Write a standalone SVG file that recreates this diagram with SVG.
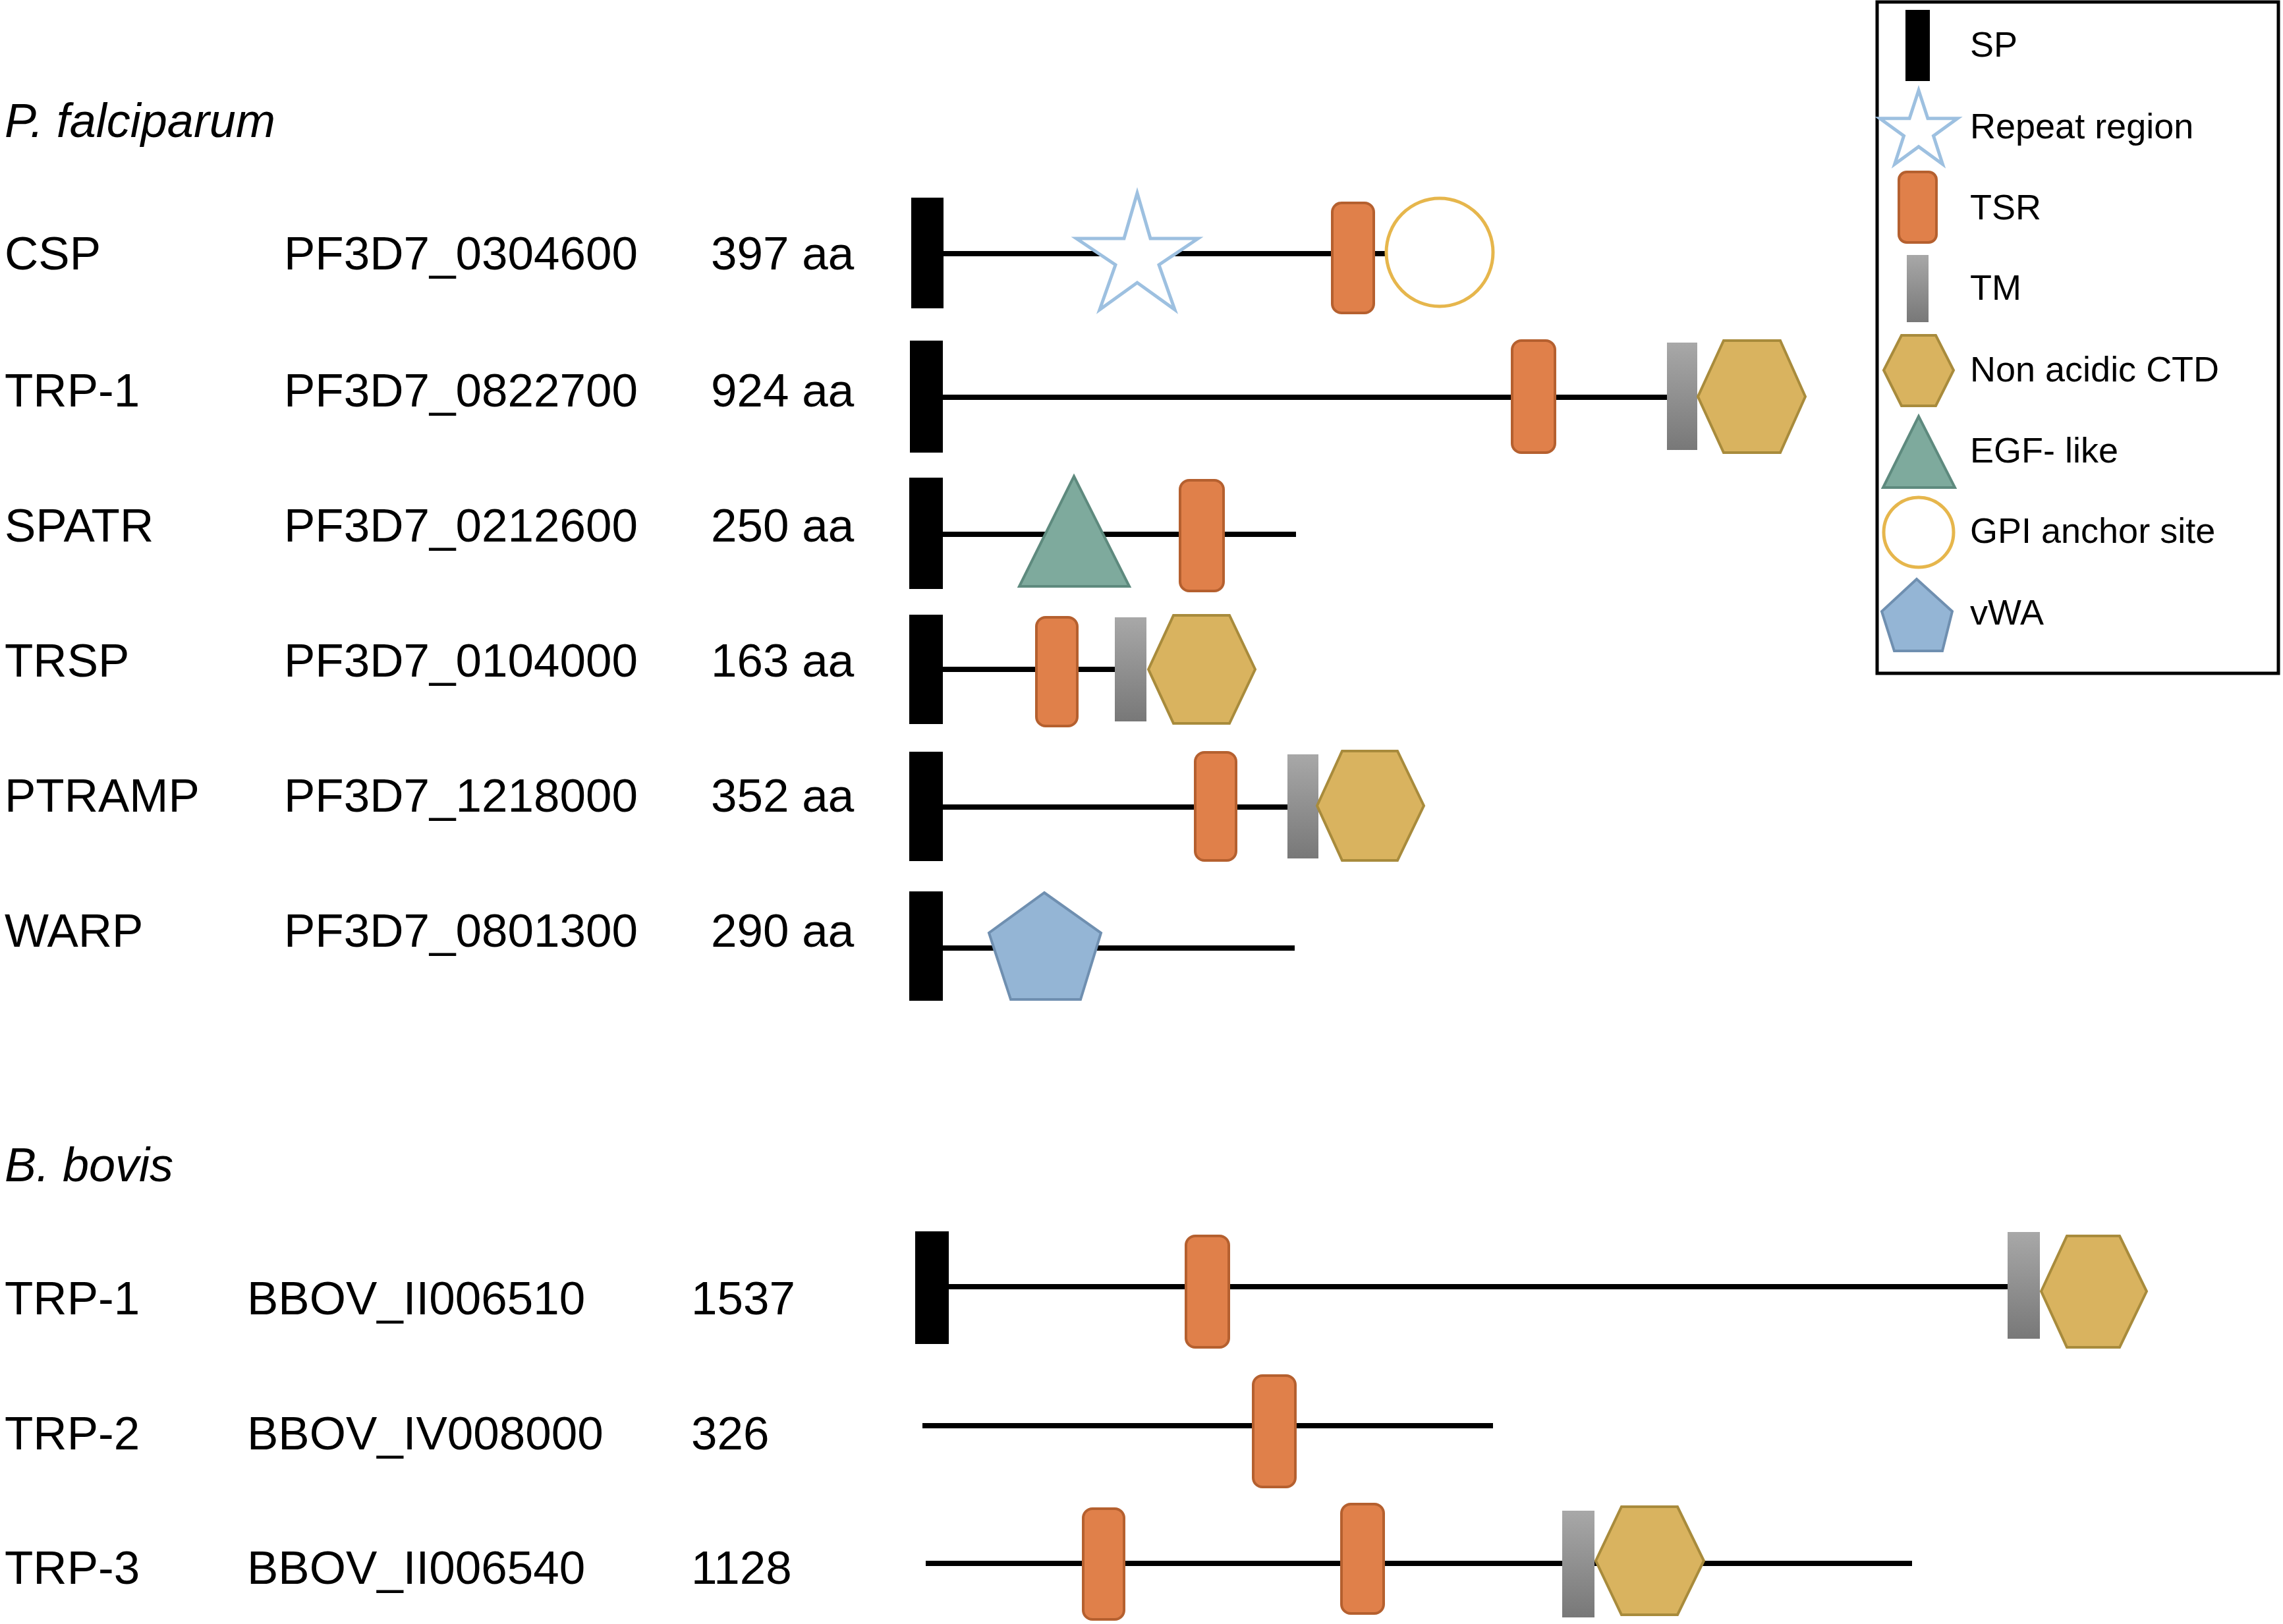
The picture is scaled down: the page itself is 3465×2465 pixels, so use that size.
<svg xmlns="http://www.w3.org/2000/svg" width="3465" height="2465" viewBox="0 0 3465 2465">
<defs>
<linearGradient id="tmGrad" x1="0" y1="0" x2="0" y2="1">
<stop offset="0" stop-color="#A8A8A8"/>
<stop offset="1" stop-color="#787878"/>
</linearGradient>
<style>
.t{font-family:"Liberation Sans",Arial,sans-serif;font-size:71px;fill:#000}
.ti{font-family:"Liberation Sans",Arial,sans-serif;font-size:72px;font-style:italic;fill:#000}
.lg{font-family:"Liberation Sans",Arial,sans-serif;font-size:54px;fill:#000}
.sp{fill:#000}
.tsr{fill:#E0804A;stroke:#B5602F;stroke-width:4}
.tm{fill:url(#tmGrad)}
.hex{fill:#D9B35F;stroke:#A88B3C;stroke-width:4}
.tri{fill:#7EAA9D;stroke:#5E8A7E;stroke-width:4}
.pent{fill:#94B5D5;stroke:#6F8FB0;stroke-width:4}
.gpi{fill:none;stroke:#E6B64C;stroke-width:5}
.star{fill:#fff;stroke:#9DC0E0;stroke-width:5}
.bb{stroke:#000;stroke-width:8;fill:none}
</style>
</defs>
<rect width="3465" height="2465" fill="#fff"/>

<g id="connectors">
<line class="bb" x1="1431" y1="385" x2="2104" y2="385"/>
<line class="bb" x1="1431" y1="603" x2="2530" y2="603"/>
<line class="bb" x1="1431" y1="811" x2="1967" y2="811"/>
<line class="bb" x1="1431" y1="1016" x2="1692" y2="1016"/>
<line class="bb" x1="1431" y1="1225" x2="1954" y2="1225"/>
<line class="bb" x1="1431" y1="1439" x2="1965" y2="1439"/>
<line class="bb" x1="1440" y1="1953" x2="3047" y2="1953"/>
<line class="bb" x1="1400" y1="2164" x2="2266" y2="2164"/>
<line class="bb" x1="1405" y1="2373" x2="2902" y2="2373"/>
</g>

<g id="titles">
<text class="ti" x="7" y="208">P. falciparum</text>
<text class="ti" x="7" y="1793">B. bovis</text>
</g>

<g id="pf-csp">
<text class="t" x="7" y="409">CSP</text>
<text class="t" x="431" y="409">PF3D7_0304600</text>
<text class="t" x="1079" y="409">397 aa</text>
<rect class="sp" x="1383" y="300" width="49" height="168"/>
<polygon class="star" points="1726,293 1746,362 1818.3,362 1759,402 1783,470 1726,429 1669,470 1693,402 1633.7,362 1706,362"/>
<rect class="tsr" x="2022" y="308" width="63" height="167" rx="14"/>
<ellipse class="gpi" cx="2185" cy="383" rx="81" ry="82"/>
</g>

<g id="pf-trp1">
<text class="t" x="7" y="617">TRP-1</text>
<text class="t" x="431" y="617">PF3D7_0822700</text>
<text class="t" x="1079" y="617">924 aa</text>
<rect class="sp" x="1381" y="517" width="50" height="170"/>
<rect class="tsr" x="2295" y="517" width="65" height="170" rx="14"/>
<rect class="tm" x="2530" y="520" width="46" height="163"/>
<polygon class="hex" points="2577,602 2616,517 2702,517 2740,602 2702,687 2616,687"/>
</g>

<g id="pf-spatr">
<text class="t" x="7" y="822">SPATR</text>
<text class="t" x="431" y="822">PF3D7_0212600</text>
<text class="t" x="1079" y="822">250 aa</text>
<rect class="sp" x="1380" y="725" width="51" height="169"/>
<polygon class="tri" points="1630,723 1714,890 1547,890"/>
<rect class="tsr" x="1791" y="729" width="66" height="168" rx="14"/>
</g>

<g id="pf-trsp">
<text class="t" x="7" y="1027">TRSP</text>
<text class="t" x="431" y="1027">PF3D7_0104000</text>
<text class="t" x="1079" y="1027">163 aa</text>
<rect class="sp" x="1380" y="933" width="51" height="166"/>
<rect class="tsr" x="1573" y="937" width="62" height="165" rx="14"/>
<rect class="tm" x="1692" y="937" width="48" height="158"/>
<polygon class="hex" points="1743,1016 1781,934 1866,934 1905,1016 1866,1098 1781,1098"/>
</g>

<g id="pf-ptramp">
<text class="t" x="7" y="1232">PTRAMP</text>
<text class="t" x="431" y="1232">PF3D7_1218000</text>
<text class="t" x="1079" y="1232">352 aa</text>
<rect class="sp" x="1380" y="1141" width="51" height="166"/>
<rect class="tsr" x="1814" y="1142" width="62" height="164" rx="14"/>
<rect class="tm" x="1954" y="1145" width="47" height="158"/>
<polygon class="hex" points="1999,1223 2037,1140 2121,1140 2161,1223 2121,1306 2037,1306"/>
</g>

<g id="pf-warp">
<text class="t" x="7" y="1437">WARP</text>
<text class="t" x="431" y="1437">PF3D7_0801300</text>
<text class="t" x="1079" y="1437">290 aa</text>
<rect class="sp" x="1380" y="1353" width="51" height="166"/>
<polygon class="pent" points="1585,1355 1671,1416 1640,1517 1534,1517 1501,1416"/>
</g>

<g id="bb-trp1">
<text class="t" x="7" y="1995">TRP-1</text>
<text class="t" x="375" y="1995">BBOV_II006510</text>
<text class="t" x="1049" y="1995">1537</text>
<rect class="sp" x="1389" y="1869" width="51" height="171"/>
<rect class="tsr" x="1800" y="1876" width="65" height="169" rx="14"/>
<rect class="tm" x="3047" y="1870" width="49" height="162"/>
<polygon class="hex" points="3098,1960 3137,1876 3217,1876 3258,1960 3217,2045 3137,2045"/>
</g>

<g id="bb-trp2">
<text class="t" x="7" y="2200">TRP-2</text>
<text class="t" x="375" y="2200">BBOV_IV008000</text>
<text class="t" x="1049" y="2200">326</text>
<rect class="tsr" x="1902" y="2088" width="64" height="169" rx="14"/>
</g>

<g id="bb-trp3">
<text class="t" x="7" y="2404">TRP-3</text>
<text class="t" x="375" y="2404">BBOV_II006540</text>
<text class="t" x="1049" y="2404">1128</text>
<rect class="tsr" x="1644" y="2290" width="62" height="168" rx="14"/>
<rect class="tsr" x="2036" y="2283" width="64" height="166" rx="14"/>
<rect class="tm" x="2371" y="2293" width="49" height="162"/>
<polygon class="hex" points="2422,2369 2461,2287 2546,2287 2586,2369 2546,2451 2461,2451"/>
</g>

<g id="legend">
<rect x="2849" y="3" width="609" height="1019" fill="none" stroke="#000" stroke-width="5"/>
<rect class="sp" x="2892" y="15" width="37" height="108"/>
<text class="lg" x="2990" y="86">SP</text>
<polygon class="star" points="2912,137 2925.9,179.8 2971,179.8 2934.5,206.3 2948.4,249.2 2912,222.7 2875.6,249.2 2889.5,206.3 2853,179.8 2898.1,179.8"/>
<text class="lg" x="2990" y="210">Repeat region</text>
<rect class="tsr" x="2882" y="261" width="57" height="107" rx="12"/>
<text class="lg" x="2990" y="333">TSR</text>
<rect class="tm" x="2894" y="387" width="33" height="102"/>
<text class="lg" x="2990" y="455">TM</text>
<polygon class="hex" points="2859,562 2886,509 2938,509 2965,562 2938,616 2886,616"/>
<text class="lg" x="2990" y="579">Non acidic CTD</text>
<polygon class="tri" points="2912,632 2967,740 2858,740"/>
<text class="lg" x="2990" y="702">EGF- like</text>
<ellipse class="gpi" cx="2912" cy="808" rx="53" ry="53"/>
<text class="lg" x="2990" y="824">GPI anchor site</text>
<polygon class="pent" points="2909,879 2963,928 2948,988 2875,988 2856,928"/>
<text class="lg" x="2990" y="948">vWA</text>
</g>
</svg>
